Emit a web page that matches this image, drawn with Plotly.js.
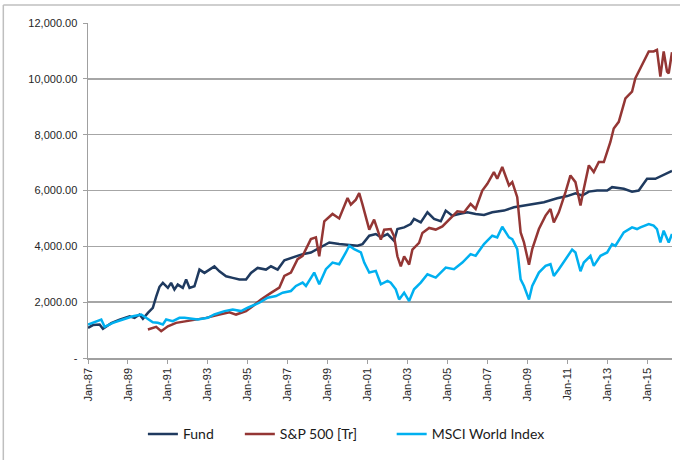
<!DOCTYPE html>
<html>
<head>
<meta charset="utf-8">
<script src="https://cdn.plot.ly/plotly-3.0.1.min.js"></script>
<style>html,body{margin:0;padding:0;background:#fff;}#chart{width:680px;height:460px;}</style>
</head>
<body>
<div id="chart"></div>
<script>
// ---- Data ----
const fundDates = ["1987-01","1987-04","1987-08","1987-10","1988-03","1988-08","1989-02","1989-05","1989-08","1989-10",
"1990-01","1990-04","1990-06","1990-08","1990-10","1991-01","1991-03","1991-05","1991-07","1991-10","1991-12",
"1992-02","1992-05","1992-08","1992-11","1993-02","1993-05","1993-08","1993-12","1994-04","1994-08","1994-12",
"1995-03","1995-07","1995-12","1996-03","1996-07","1996-11","1997-04","1997-10","1998-03","1998-09","1999-02",
"1999-08","2000-02","2000-07","2000-10","2001-02","2001-06","2001-09","2002-01","2002-05","2002-07","2002-11",
"2003-03","2003-05","2003-09","2004-01","2004-05","2004-09","2004-12","2005-04","2005-08","2006-01","2006-06",
"2006-11","2007-04","2007-11","2008-05","2008-11","2009-04","2009-11","2010-07","2011-01","2011-06","2011-10",
"2012-02","2012-07","2013-01","2013-04","2013-11","2014-04","2014-08","2015-01","2015-06","2015-10","2016-04"];
const fundValues = [1080,1180,1200,1045,1250,1377,1496,1438,1556,1402,
1617,1800,2200,2550,2690,2512,2690,2451,2630,2512,2809,
2512,2570,3167,3048,3167,3280,3106,2927,2870,2809,2809,
3048,3227,3167,3285,3167,3500,3600,3720,3780,3960,4140,
4080,4044,4020,4080,4380,4440,4320,4440,4200,4620,4680,
4800,4980,4860,5220,4980,4900,5280,5100,5160,5220,5160,
5124,5220,5280,5400,5460,5520,5580,5720,5800,5900,5820,
5960,6000,6000,6120,6060,5960,6000,6420,6420,6540,6700];

const spDates = ["1990-01","1990-06","1990-09","1991-01","1991-06","1991-12","1992-06","1992-12","1993-08","1994-02",
"1994-06","1994-12","1995-04","1995-09","1996-03","1996-06","1996-08","1996-11","1997-03","1997-07","1997-10",
"1998-03","1998-06","1998-08","1998-11","1999-04","1999-08","2000-01","2000-03","2000-06","2000-08","2000-10",
"2001-02","2001-05","2001-07","2001-09","2001-11","2002-03","2002-05","2002-07","2002-09","2002-11","2003-02",
"2003-04","2003-08","2003-10","2004-02","2004-06","2004-10","2005-04","2005-07","2005-11","2006-03","2006-06",
"2006-10","2007-01","2007-05","2007-07","2007-10","2008-02","2008-04","2008-07","2008-09","2008-11","2009-02",
"2009-04","2009-08","2009-12","2010-03","2010-05","2010-08","2010-12","2011-03","2011-06","2011-09","2011-11",
"2012-02","2012-05","2012-08","2012-11","2013-03","2013-05","2013-08","2013-12","2014-04","2014-06","2014-09",
"2014-12","2015-02","2015-05","2015-07","2015-09","2015-11","2016-01","2016-02","2016-04"];
const spValues = [1020,1116,959,1138,1259,1317,1378,1438,1556,1639,
1556,1675,1853,2093,2333,2451,2520,2940,3060,3540,3660,
4260,4320,3643,4895,5160,5000,5731,5492,5671,5910,5492,
4598,4955,4598,4240,4598,4620,4358,3643,3285,3643,3350,
3882,4122,4480,4659,4600,4716,5073,5253,5220,5520,5340,
6000,6240,6660,6420,6840,6180,6300,5760,4500,4140,3345,
3900,4620,5100,5340,4860,5220,5940,6540,6300,5460,6060,
6900,6660,7020,7020,7740,8220,8460,9300,9540,10020,10380,
10680,10980,10980,11040,10080,10980,10260,10200,10950];

const msciDates = ["1987-01","1987-06","1987-09","1987-11","1988-04","1988-10","1989-04","1989-09","1989-12","1990-04",
"1990-07","1990-10","1990-12","1991-04","1991-08","1991-11","1992-07","1993-01","1993-05","1993-11","1994-04",
"1994-09","1995-01","1995-08","1996-01","1996-06","1996-10","1997-03","1997-06","1997-10","1997-12","1998-05",
"1998-08","1998-12","1999-04","1999-08","1999-12","2000-02","2000-05","2000-09","2000-11","2001-02","2001-06",
"2001-09","2002-01","2002-03","2002-06","2002-08","2002-11","2003-02","2003-05","2003-09","2004-01","2004-06",
"2004-12","2005-05","2005-10","2006-03","2006-06","2006-11","2007-04","2007-07","2007-10","2008-02","2008-04",
"2008-07","2008-09","2008-11","2009-02","2009-04","2009-08","2009-12","2010-03","2010-05","2010-08","2010-12",
"2011-04","2011-06","2011-09","2011-11","2012-03","2012-05","2012-09","2013-01","2013-04","2013-06","2013-11",
"2014-04","2014-07","2014-09","2015-02","2015-05","2015-07","2015-09","2015-11","2016-02","2016-04"];
const msciValues = [1199,1317,1378,1116,1259,1378,1496,1556,1438,1281,
1259,1200,1378,1317,1438,1440,1380,1440,1560,1680,1740,
1680,1800,1980,2160,2220,2340,2400,2580,2700,2580,3060,
2640,3180,3420,3360,3780,4020,3900,3780,3420,3060,3120,
2640,2760,2700,2460,2100,2340,2040,2460,2700,3000,2880,
3240,3180,3420,3720,3660,4080,4380,4320,4700,4320,4260,
3900,2820,2580,2093,2580,3060,3300,3360,2940,3180,3540,
3882,3780,3106,3420,3660,3300,3660,3780,4080,4020,4500,
4680,4620,4680,4800,4740,4620,4140,4560,4140,4440];

const seriesNames = ["Fund","S&P 500 [Tr]","MSCI World Index"];
const xTickVals = ["1987-01-01","1989-01-01","1991-01-01","1993-01-01","1995-01-01","1997-01-01","1999-01-01","2001-01-01",
"2003-01-01","2005-01-01","2007-01-01","2009-01-01","2011-01-01","2013-01-01","2015-01-01"];
const xTickText = ["Jan-87","Jan-89","Jan-91","Jan-93","Jan-95","Jan-97","Jan-99","Jan-01","Jan-03","Jan-05","Jan-07","Jan-09","Jan-11","Jan-13","Jan-15"];
const yTickVals = [0,2000,4000,6000,8000,10000,12000];
const yTickText = ["-","2,000.00","4,000.00","6,000.00","8,000.00","10,000.00","12,000.00"];

// ---- Chart ----
const colors = ["#1f3a5f","#943634","#00b0f0"];
const legendIds = ["legend","legend2","legend3"];
const traces = [
  {x: fundDates, y: fundValues, name: seriesNames[0]},
  {x: spDates, y: spValues, name: seriesNames[1]},
  {x: msciDates, y: msciValues, name: seriesNames[2]}
].map((t,i)=>Object.assign(t,{type:"scatter",mode:"lines",line:{color:colors[i],width:2.5},hoverinfo:"skip",legend:legendIds[i]}));

const legFont = {family:"Lato, 'Open Sans', sans-serif", size:14, color:"#1a1a1a"};
const mkLeg = (x)=>({orientation:"h", x:x, xanchor:"left", y:-0.228, yanchor:"middle", font:legFont, bgcolor:"rgba(0,0,0,0)"});

const layout = {
  width:680, height:460,
  margin:{l:88,r:8,t:23,b:101.5},
  paper_bgcolor:"#ffffff", plot_bgcolor:"#ffffff",
  showlegend:true,
  legend: mkLeg(0.094),
  legend2: mkLeg(0.260),
  legend3: mkLeg(0.520),
  xaxis:{type:"date", range:["1987-01-01","2016-04-01"], tickmode:"array", tickvals:xTickVals, ticktext:xTickText,
    tickangle:-90, ticks:"outside", ticklen:4, tickcolor:"#a0a0a0", showline:true, linecolor:"#a0a0a0", linewidth:1.5,
    showgrid:false, zeroline:false, tickfont:{family:"'Liberation Sans', Arial, sans-serif", size:11, color:"#262626"}},
  yaxis:{range:[0,12000], tickmode:"array", tickvals:yTickVals, ticktext:yTickText, ticks:"outside", ticklen:4,
    tickcolor:"#a0a0a0", showline:true, linecolor:"#a0a0a0", linewidth:1.5, showgrid:true, gridcolor:"#a6a6a6",
    gridwidth:1.5, zeroline:false, ticklabelstandoff:3,
    tickfont:{family:"'Liberation Sans', Arial, sans-serif", size:11, color:"#262626"}},
  shapes:[
    {type:"line", xref:"paper", yref:"paper", x0:-0.145, x1:1.02, y0:1.054, y1:1.054, line:{color:"#bfbfbf",width:1.5}},
    {type:"line", xref:"paper", yref:"paper", x0:-0.145, x1:-0.145, y0:1.054, y1:-0.31, line:{color:"#bfbfbf",width:1.5}}
  ]
};
Plotly.newPlot("chart", traces, layout, {displayModeBar:false, staticPlot:true});
</script>
</body>
</html>
